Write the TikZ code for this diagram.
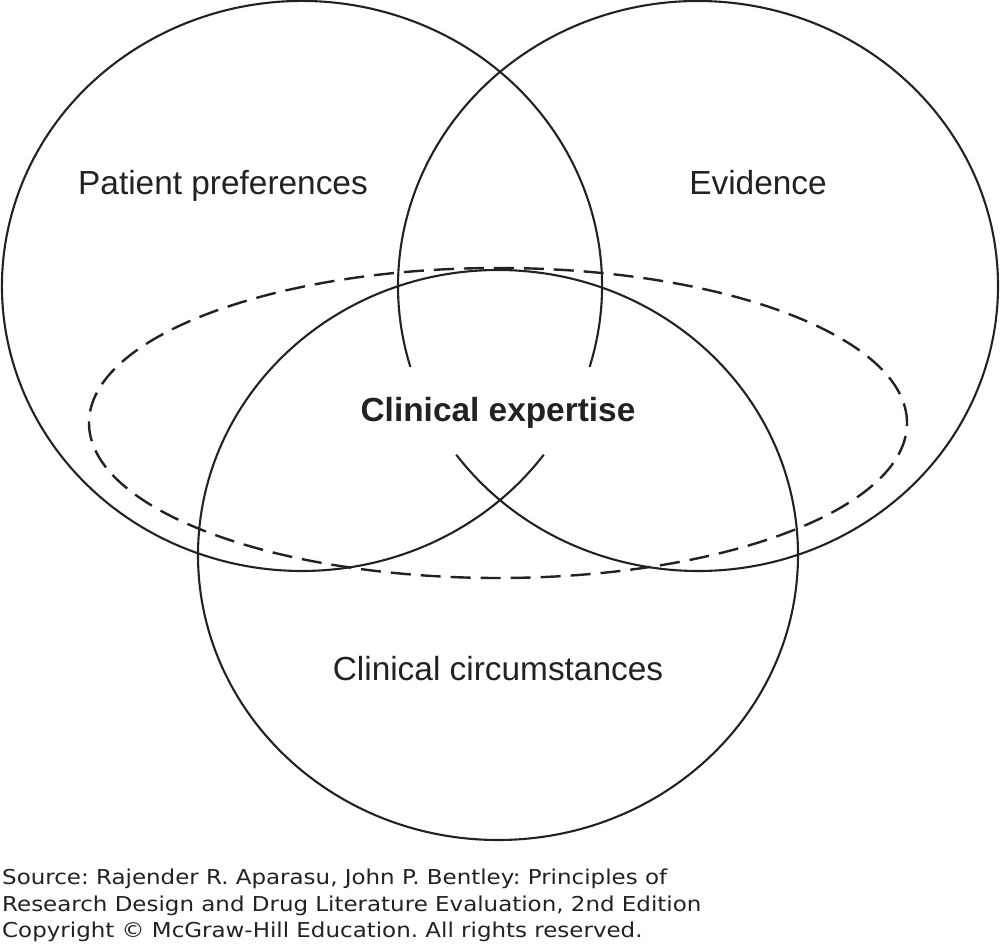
\documentclass[tikz,border=0pt]{standalone}
\usepackage{fontspec}
\usetikzlibrary{calc}
\setmainfont{Liberation Sans}
\newfontfamily\srcfont[FakeStretch=1.12]{DejaVu Sans}
\definecolor{ink}{HTML}{222222}
\frenchspacing
\tikzset{
  ring/.style={draw=ink, line width=2.1pt},
  dashring/.style={draw=ink, line width=2.4pt, dash pattern=on 20pt off 10pt},
  lbl/.style={text=ink, font=\fontsize{33.4}{40}\selectfont, anchor=base, inner sep=0pt},
  src/.style={text=ink, font=\srcfont\fontsize{20.5}{24}\selectfont, anchor=base west, inner sep=0pt}
}
\begin{document}
\begin{tikzpicture}[x=1pt,y=1pt]
\useasboundingbox (0,0) rectangle (1000,945);
% centres (y measured upward)
\coordinate (cL) at (302,659);
\coordinate (cR) at (698,659);
\coordinate (cB) at (498,390);
\coordinate (cE) at (498,522);
% dashed ellipse
\draw[dashring] (cE) ellipse [x radius=409, y radius=155];
% bottom circle
\draw[ring] (cB) ellipse [x radius=300, y radius=285];
% left circle with gap in the centre
\draw[ring] ($(cL)+({300*cos(-16.5)},{285*sin(-16.5)})$)
  arc [start angle=-16.5, end angle=323.7, x radius=300, y radius=285];
% right circle with gap in the centre
\draw[ring] ($(cR)+({300*cos(216.3)},{285*sin(216.3)})$)
  arc [start angle=216.3, end angle=556.5, x radius=300, y radius=285];
% labels
\node[lbl] (pp) at (223,750) {Patient preferences};
\node[lbl] (ev) at (758,750) {Evidence};
\node[lbl, font=\bfseries\fontsize{33.4}{40}\selectfont] (ce) at (498,523) {Clinical expertise};
\node[lbl] (cc) at (498,265) {Clinical circumstances};
% source lines
\node[src] (s1) at (2,61) {Source: Rajender R. Aparasu, John P. Bentley: Principles of};
\node[src] (s2) at (2,34) {Research Design and Drug Literature Evaluation, 2nd Edition};
\node[src] (s3) at (2,8) {Copyright \textcopyright{} McGraw-Hill Education. All rights reserved.};
\end{tikzpicture}
\end{document}
